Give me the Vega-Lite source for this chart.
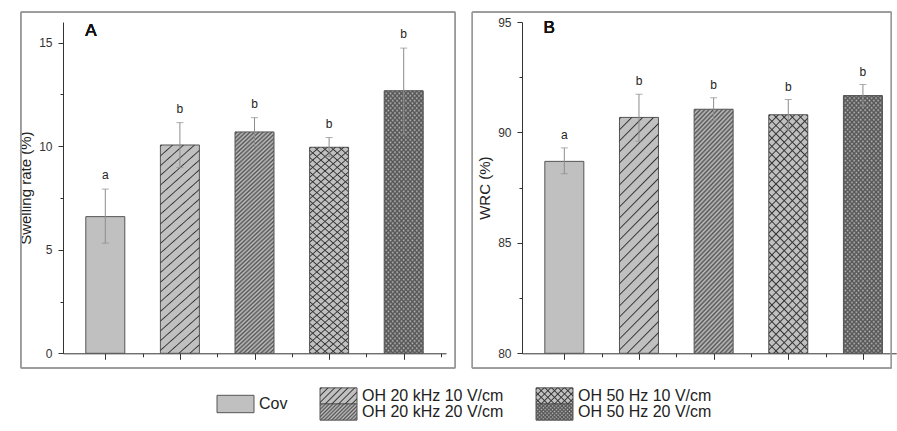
{
"$schema": "https://vega.github.io/schema/vega-lite/v6.json",
"padding": {"left": 18, "top": 11, "right": 0, "bottom": 0},
"params": [
{"name": "G1", "value": {"gradient":"linear","x1":0,"y1":0,"x2":0.1892,"y2":1.1351,"stops":[
{"offset":0,"color":"#3330"},{"offset":0.005,"color":"#333"},{"offset":0.01,"color":"#3330"},
{"offset":0.04,"color":"#3330"},{"offset":0.045,"color":"#333"},{"offset":0.05,"color":"#3330"},
{"offset":0.08,"color":"#3330"},{"offset":0.085,"color":"#333"},{"offset":0.09,"color":"#3330"},
{"offset":0.12,"color":"#3330"},{"offset":0.125,"color":"#333"},{"offset":0.13,"color":"#3330"},
{"offset":0.16,"color":"#3330"},{"offset":0.165,"color":"#333"},{"offset":0.17,"color":"#3330"},
{"offset":0.2,"color":"#3330"},{"offset":0.205,"color":"#333"},{"offset":0.21,"color":"#3330"},
{"offset":0.24,"color":"#3330"},{"offset":0.245,"color":"#333"},{"offset":0.25,"color":"#3330"},
{"offset":0.28,"color":"#3330"},{"offset":0.285,"color":"#333"},{"offset":0.29,"color":"#3330"},
{"offset":0.32,"color":"#3330"},{"offset":0.325,"color":"#333"},{"offset":0.33,"color":"#3330"},
{"offset":0.36,"color":"#3330"},{"offset":0.365,"color":"#333"},{"offset":0.37,"color":"#3330"},
{"offset":0.4,"color":"#3330"},{"offset":0.405,"color":"#333"},{"offset":0.41,"color":"#3330"},
{"offset":0.44,"color":"#3330"},{"offset":0.445,"color":"#333"},{"offset":0.45,"color":"#3330"},
{"offset":0.48,"color":"#3330"},{"offset":0.485,"color":"#333"},{"offset":0.49,"color":"#3330"},
{"offset":0.52,"color":"#3330"},{"offset":0.525,"color":"#333"},{"offset":0.53,"color":"#3330"},
{"offset":0.56,"color":"#3330"},{"offset":0.565,"color":"#333"},{"offset":0.57,"color":"#3330"},
{"offset":0.6,"color":"#3330"},{"offset":0.605,"color":"#333"},{"offset":0.61,"color":"#3330"},
{"offset":0.64,"color":"#3330"},{"offset":0.645,"color":"#333"},{"offset":0.65,"color":"#3330"},
{"offset":0.68,"color":"#3330"},{"offset":0.685,"color":"#333"},{"offset":0.69,"color":"#3330"},
{"offset":0.72,"color":"#3330"},{"offset":0.725,"color":"#333"},{"offset":0.73,"color":"#3330"},
{"offset":0.76,"color":"#3330"},{"offset":0.765,"color":"#333"},{"offset":0.77,"color":"#3330"},
{"offset":0.8,"color":"#3330"},{"offset":0.805,"color":"#333"},{"offset":0.81,"color":"#3330"},
{"offset":0.84,"color":"#3330"},{"offset":0.845,"color":"#333"},{"offset":0.85,"color":"#3330"},
{"offset":0.88,"color":"#3330"},{"offset":0.885,"color":"#333"},{"offset":0.89,"color":"#3330"},
{"offset":0.92,"color":"#3330"},{"offset":0.925,"color":"#333"},{"offset":0.93,"color":"#3330"},
{"offset":0.96,"color":"#3330"},{"offset":0.965,"color":"#333"},{"offset":0.97,"color":"#3330"}
]}},
{"name": "G2", "value": {"gradient":"linear","x1":0,"y1":0,"x2":0.1892,"y2":1.1351,"stops":[
{"offset":0,"color":"#5550"},{"offset":0.008,"color":"#555"},{"offset":0.016,"color":"#5550"},{"offset":0.024,"color":"#555"},{"offset":0.032,"color":"#5550"},{"offset":0.04,"color":"#555"},{"offset":0.048,"color":"#5550"},{"offset":0.056,"color":"#555"},{"offset":0.064,"color":"#5550"},{"offset":0.072,"color":"#555"},
{"offset":0.08,"color":"#5550"},{"offset":0.088,"color":"#555"},{"offset":0.096,"color":"#5550"},{"offset":0.104,"color":"#555"},{"offset":0.112,"color":"#5550"},{"offset":0.12,"color":"#555"},{"offset":0.128,"color":"#5550"},{"offset":0.136,"color":"#555"},{"offset":0.144,"color":"#5550"},{"offset":0.152,"color":"#555"},
{"offset":0.16,"color":"#5550"},{"offset":0.168,"color":"#555"},{"offset":0.176,"color":"#5550"},{"offset":0.184,"color":"#555"},{"offset":0.192,"color":"#5550"},{"offset":0.2,"color":"#555"},{"offset":0.208,"color":"#5550"},{"offset":0.216,"color":"#555"},{"offset":0.224,"color":"#5550"},{"offset":0.232,"color":"#555"},
{"offset":0.24,"color":"#5550"},{"offset":0.248,"color":"#555"},{"offset":0.256,"color":"#5550"},{"offset":0.264,"color":"#555"},{"offset":0.272,"color":"#5550"},{"offset":0.28,"color":"#555"},{"offset":0.288,"color":"#5550"},{"offset":0.296,"color":"#555"},{"offset":0.304,"color":"#5550"},{"offset":0.312,"color":"#555"},
{"offset":0.32,"color":"#5550"},{"offset":0.328,"color":"#555"},{"offset":0.336,"color":"#5550"},{"offset":0.344,"color":"#555"},{"offset":0.352,"color":"#5550"},{"offset":0.36,"color":"#555"},{"offset":0.368,"color":"#5550"},{"offset":0.376,"color":"#555"},{"offset":0.384,"color":"#5550"},{"offset":0.392,"color":"#555"},
{"offset":0.4,"color":"#5550"},{"offset":0.408,"color":"#555"},{"offset":0.416,"color":"#5550"},{"offset":0.424,"color":"#555"},{"offset":0.432,"color":"#5550"},{"offset":0.44,"color":"#555"},{"offset":0.448,"color":"#5550"},{"offset":0.456,"color":"#555"},{"offset":0.464,"color":"#5550"},{"offset":0.472,"color":"#555"},
{"offset":0.48,"color":"#5550"},{"offset":0.488,"color":"#555"},{"offset":0.496,"color":"#5550"},{"offset":0.504,"color":"#555"},{"offset":0.512,"color":"#5550"},{"offset":0.52,"color":"#555"},{"offset":0.528,"color":"#5550"},{"offset":0.536,"color":"#555"},{"offset":0.544,"color":"#5550"},{"offset":0.552,"color":"#555"},
{"offset":0.56,"color":"#5550"},{"offset":0.568,"color":"#555"},{"offset":0.576,"color":"#5550"},{"offset":0.584,"color":"#555"},{"offset":0.592,"color":"#5550"},{"offset":0.6,"color":"#555"},{"offset":0.608,"color":"#5550"},{"offset":0.616,"color":"#555"},{"offset":0.624,"color":"#5550"},{"offset":0.632,"color":"#555"},
{"offset":0.64,"color":"#5550"},{"offset":0.648,"color":"#555"},{"offset":0.656,"color":"#5550"},{"offset":0.664,"color":"#555"},{"offset":0.672,"color":"#5550"},{"offset":0.68,"color":"#555"},{"offset":0.688,"color":"#5550"},{"offset":0.696,"color":"#555"},{"offset":0.704,"color":"#5550"},{"offset":0.712,"color":"#555"},
{"offset":0.72,"color":"#5550"},{"offset":0.728,"color":"#555"},{"offset":0.736,"color":"#5550"},{"offset":0.744,"color":"#555"},{"offset":0.752,"color":"#5550"},{"offset":0.76,"color":"#555"},{"offset":0.768,"color":"#5550"},{"offset":0.776,"color":"#555"},{"offset":0.784,"color":"#5550"},{"offset":0.792,"color":"#555"},
{"offset":0.8,"color":"#5550"},{"offset":0.808,"color":"#555"},{"offset":0.816,"color":"#5550"},{"offset":0.824,"color":"#555"},{"offset":0.832,"color":"#5550"},{"offset":0.84,"color":"#555"},{"offset":0.848,"color":"#5550"},{"offset":0.856,"color":"#555"},{"offset":0.864,"color":"#5550"},{"offset":0.872,"color":"#555"},
{"offset":0.88,"color":"#5550"},{"offset":0.888,"color":"#555"},{"offset":0.896,"color":"#5550"},{"offset":0.904,"color":"#555"},{"offset":0.912,"color":"#5550"},{"offset":0.92,"color":"#555"},{"offset":0.928,"color":"#5550"},{"offset":0.936,"color":"#555"},{"offset":0.944,"color":"#5550"},{"offset":0.952,"color":"#555"},
{"offset":0.96,"color":"#5550"},{"offset":0.968,"color":"#555"},{"offset":0.976,"color":"#5550"},{"offset":0.984,"color":"#555"},{"offset":0.992,"color":"#5550"},{"offset":1,"color":"#555"}
]}},
{"name": "G2b", "value": {"gradient":"linear","x1":1,"y1":0,"x2":0.8108,"y2":1.1351,"stops":[
{"offset":0,"color":"#5550"},{"offset":0.008,"color":"#555"},{"offset":0.016,"color":"#5550"},{"offset":0.024,"color":"#555"},{"offset":0.032,"color":"#5550"},{"offset":0.04,"color":"#555"},{"offset":0.048,"color":"#5550"},{"offset":0.056,"color":"#555"},{"offset":0.064,"color":"#5550"},{"offset":0.072,"color":"#555"},
{"offset":0.08,"color":"#5550"},{"offset":0.088,"color":"#555"},{"offset":0.096,"color":"#5550"},{"offset":0.104,"color":"#555"},{"offset":0.112,"color":"#5550"},{"offset":0.12,"color":"#555"},{"offset":0.128,"color":"#5550"},{"offset":0.136,"color":"#555"},{"offset":0.144,"color":"#5550"},{"offset":0.152,"color":"#555"},
{"offset":0.16,"color":"#5550"},{"offset":0.168,"color":"#555"},{"offset":0.176,"color":"#5550"},{"offset":0.184,"color":"#555"},{"offset":0.192,"color":"#5550"},{"offset":0.2,"color":"#555"},{"offset":0.208,"color":"#5550"},{"offset":0.216,"color":"#555"},{"offset":0.224,"color":"#5550"},{"offset":0.232,"color":"#555"},
{"offset":0.24,"color":"#5550"},{"offset":0.248,"color":"#555"},{"offset":0.256,"color":"#5550"},{"offset":0.264,"color":"#555"},{"offset":0.272,"color":"#5550"},{"offset":0.28,"color":"#555"},{"offset":0.288,"color":"#5550"},{"offset":0.296,"color":"#555"},{"offset":0.304,"color":"#5550"},{"offset":0.312,"color":"#555"},
{"offset":0.32,"color":"#5550"},{"offset":0.328,"color":"#555"},{"offset":0.336,"color":"#5550"},{"offset":0.344,"color":"#555"},{"offset":0.352,"color":"#5550"},{"offset":0.36,"color":"#555"},{"offset":0.368,"color":"#5550"},{"offset":0.376,"color":"#555"},{"offset":0.384,"color":"#5550"},{"offset":0.392,"color":"#555"},
{"offset":0.4,"color":"#5550"},{"offset":0.408,"color":"#555"},{"offset":0.416,"color":"#5550"},{"offset":0.424,"color":"#555"},{"offset":0.432,"color":"#5550"},{"offset":0.44,"color":"#555"},{"offset":0.448,"color":"#5550"},{"offset":0.456,"color":"#555"},{"offset":0.464,"color":"#5550"},{"offset":0.472,"color":"#555"},
{"offset":0.48,"color":"#5550"},{"offset":0.488,"color":"#555"},{"offset":0.496,"color":"#5550"},{"offset":0.504,"color":"#555"},{"offset":0.512,"color":"#5550"},{"offset":0.52,"color":"#555"},{"offset":0.528,"color":"#5550"},{"offset":0.536,"color":"#555"},{"offset":0.544,"color":"#5550"},{"offset":0.552,"color":"#555"},
{"offset":0.56,"color":"#5550"},{"offset":0.568,"color":"#555"},{"offset":0.576,"color":"#5550"},{"offset":0.584,"color":"#555"},{"offset":0.592,"color":"#5550"},{"offset":0.6,"color":"#555"},{"offset":0.608,"color":"#5550"},{"offset":0.616,"color":"#555"},{"offset":0.624,"color":"#5550"},{"offset":0.632,"color":"#555"},
{"offset":0.64,"color":"#5550"},{"offset":0.648,"color":"#555"},{"offset":0.656,"color":"#5550"},{"offset":0.664,"color":"#555"},{"offset":0.672,"color":"#5550"},{"offset":0.68,"color":"#555"},{"offset":0.688,"color":"#5550"},{"offset":0.696,"color":"#555"},{"offset":0.704,"color":"#5550"},{"offset":0.712,"color":"#555"},
{"offset":0.72,"color":"#5550"},{"offset":0.728,"color":"#555"},{"offset":0.736,"color":"#5550"},{"offset":0.744,"color":"#555"},{"offset":0.752,"color":"#5550"},{"offset":0.76,"color":"#555"},{"offset":0.768,"color":"#5550"},{"offset":0.776,"color":"#555"},{"offset":0.784,"color":"#5550"},{"offset":0.792,"color":"#555"},
{"offset":0.8,"color":"#5550"},{"offset":0.808,"color":"#555"},{"offset":0.816,"color":"#5550"},{"offset":0.824,"color":"#555"},{"offset":0.832,"color":"#5550"},{"offset":0.84,"color":"#555"},{"offset":0.848,"color":"#5550"},{"offset":0.856,"color":"#555"},{"offset":0.864,"color":"#5550"},{"offset":0.872,"color":"#555"},
{"offset":0.88,"color":"#5550"},{"offset":0.888,"color":"#555"},{"offset":0.896,"color":"#5550"},{"offset":0.904,"color":"#555"},{"offset":0.912,"color":"#5550"},{"offset":0.92,"color":"#555"},{"offset":0.928,"color":"#5550"},{"offset":0.936,"color":"#555"},{"offset":0.944,"color":"#5550"},{"offset":0.952,"color":"#555"},
{"offset":0.96,"color":"#5550"},{"offset":0.968,"color":"#555"},{"offset":0.976,"color":"#5550"},{"offset":0.984,"color":"#555"},{"offset":0.992,"color":"#5550"},{"offset":1,"color":"#555"}
]}},
{"name": "G3", "value": {"gradient":"linear","x1":0,"y1":0,"x2":0.1892,"y2":1.1351,"stops":[
{"offset":0,"color":"#3330"},{"offset":0.005,"color":"#333"},{"offset":0.01,"color":"#3330"},
{"offset":0.03,"color":"#3330"},{"offset":0.035,"color":"#333"},{"offset":0.04,"color":"#3330"},
{"offset":0.06,"color":"#3330"},{"offset":0.065,"color":"#333"},{"offset":0.07,"color":"#3330"},
{"offset":0.09,"color":"#3330"},{"offset":0.095,"color":"#333"},{"offset":0.1,"color":"#3330"},
{"offset":0.12,"color":"#3330"},{"offset":0.125,"color":"#333"},{"offset":0.13,"color":"#3330"},
{"offset":0.15,"color":"#3330"},{"offset":0.155,"color":"#333"},{"offset":0.16,"color":"#3330"},
{"offset":0.18,"color":"#3330"},{"offset":0.185,"color":"#333"},{"offset":0.19,"color":"#3330"},
{"offset":0.21,"color":"#3330"},{"offset":0.215,"color":"#333"},{"offset":0.22,"color":"#3330"},
{"offset":0.24,"color":"#3330"},{"offset":0.245,"color":"#333"},{"offset":0.25,"color":"#3330"},
{"offset":0.27,"color":"#3330"},{"offset":0.275,"color":"#333"},{"offset":0.28,"color":"#3330"},
{"offset":0.3,"color":"#3330"},{"offset":0.305,"color":"#333"},{"offset":0.31,"color":"#3330"},
{"offset":0.33,"color":"#3330"},{"offset":0.335,"color":"#333"},{"offset":0.34,"color":"#3330"},
{"offset":0.36,"color":"#3330"},{"offset":0.365,"color":"#333"},{"offset":0.37,"color":"#3330"},
{"offset":0.39,"color":"#3330"},{"offset":0.395,"color":"#333"},{"offset":0.4,"color":"#3330"},
{"offset":0.42,"color":"#3330"},{"offset":0.425,"color":"#333"},{"offset":0.43,"color":"#3330"},
{"offset":0.45,"color":"#3330"},{"offset":0.455,"color":"#333"},{"offset":0.46,"color":"#3330"},
{"offset":0.48,"color":"#3330"},{"offset":0.485,"color":"#333"},{"offset":0.49,"color":"#3330"},
{"offset":0.51,"color":"#3330"},{"offset":0.515,"color":"#333"},{"offset":0.52,"color":"#3330"},
{"offset":0.54,"color":"#3330"},{"offset":0.545,"color":"#333"},{"offset":0.55,"color":"#3330"},
{"offset":0.57,"color":"#3330"},{"offset":0.575,"color":"#333"},{"offset":0.58,"color":"#3330"},
{"offset":0.6,"color":"#3330"},{"offset":0.605,"color":"#333"},{"offset":0.61,"color":"#3330"},
{"offset":0.63,"color":"#3330"},{"offset":0.635,"color":"#333"},{"offset":0.64,"color":"#3330"},
{"offset":0.66,"color":"#3330"},{"offset":0.665,"color":"#333"},{"offset":0.67,"color":"#3330"},
{"offset":0.69,"color":"#3330"},{"offset":0.695,"color":"#333"},{"offset":0.7,"color":"#3330"},
{"offset":0.72,"color":"#3330"},{"offset":0.725,"color":"#333"},{"offset":0.73,"color":"#3330"},
{"offset":0.75,"color":"#3330"},{"offset":0.755,"color":"#333"},{"offset":0.76,"color":"#3330"},
{"offset":0.78,"color":"#3330"},{"offset":0.785,"color":"#333"},{"offset":0.79,"color":"#3330"},
{"offset":0.81,"color":"#3330"},{"offset":0.815,"color":"#333"},{"offset":0.82,"color":"#3330"},
{"offset":0.84,"color":"#3330"},{"offset":0.845,"color":"#333"},{"offset":0.85,"color":"#3330"},
{"offset":0.87,"color":"#3330"},{"offset":0.875,"color":"#333"},{"offset":0.88,"color":"#3330"},
{"offset":0.9,"color":"#3330"},{"offset":0.905,"color":"#333"},{"offset":0.91,"color":"#3330"},
{"offset":0.93,"color":"#3330"},{"offset":0.935,"color":"#333"},{"offset":0.94,"color":"#3330"},
{"offset":0.96,"color":"#3330"},{"offset":0.965,"color":"#333"},{"offset":0.97,"color":"#3330"},
{"offset":0.99,"color":"#3330"},{"offset":0.995,"color":"#333"},{"offset":1,"color":"#3330"}
]}},
{"name": "G3b", "value": {"gradient":"linear","x1":1,"y1":0,"x2":0.8108,"y2":1.1351,"stops":[
{"offset":0,"color":"#3330"},{"offset":0.005,"color":"#333"},{"offset":0.01,"color":"#3330"},
{"offset":0.03,"color":"#3330"},{"offset":0.035,"color":"#333"},{"offset":0.04,"color":"#3330"},
{"offset":0.06,"color":"#3330"},{"offset":0.065,"color":"#333"},{"offset":0.07,"color":"#3330"},
{"offset":0.09,"color":"#3330"},{"offset":0.095,"color":"#333"},{"offset":0.1,"color":"#3330"},
{"offset":0.12,"color":"#3330"},{"offset":0.125,"color":"#333"},{"offset":0.13,"color":"#3330"},
{"offset":0.15,"color":"#3330"},{"offset":0.155,"color":"#333"},{"offset":0.16,"color":"#3330"},
{"offset":0.18,"color":"#3330"},{"offset":0.185,"color":"#333"},{"offset":0.19,"color":"#3330"},
{"offset":0.21,"color":"#3330"},{"offset":0.215,"color":"#333"},{"offset":0.22,"color":"#3330"},
{"offset":0.24,"color":"#3330"},{"offset":0.245,"color":"#333"},{"offset":0.25,"color":"#3330"},
{"offset":0.27,"color":"#3330"},{"offset":0.275,"color":"#333"},{"offset":0.28,"color":"#3330"},
{"offset":0.3,"color":"#3330"},{"offset":0.305,"color":"#333"},{"offset":0.31,"color":"#3330"},
{"offset":0.33,"color":"#3330"},{"offset":0.335,"color":"#333"},{"offset":0.34,"color":"#3330"},
{"offset":0.36,"color":"#3330"},{"offset":0.365,"color":"#333"},{"offset":0.37,"color":"#3330"},
{"offset":0.39,"color":"#3330"},{"offset":0.395,"color":"#333"},{"offset":0.4,"color":"#3330"},
{"offset":0.42,"color":"#3330"},{"offset":0.425,"color":"#333"},{"offset":0.43,"color":"#3330"},
{"offset":0.45,"color":"#3330"},{"offset":0.455,"color":"#333"},{"offset":0.46,"color":"#3330"},
{"offset":0.48,"color":"#3330"},{"offset":0.485,"color":"#333"},{"offset":0.49,"color":"#3330"},
{"offset":0.51,"color":"#3330"},{"offset":0.515,"color":"#333"},{"offset":0.52,"color":"#3330"},
{"offset":0.54,"color":"#3330"},{"offset":0.545,"color":"#333"},{"offset":0.55,"color":"#3330"},
{"offset":0.57,"color":"#3330"},{"offset":0.575,"color":"#333"},{"offset":0.58,"color":"#3330"},
{"offset":0.6,"color":"#3330"},{"offset":0.605,"color":"#333"},{"offset":0.61,"color":"#3330"},
{"offset":0.63,"color":"#3330"},{"offset":0.635,"color":"#333"},{"offset":0.64,"color":"#3330"},
{"offset":0.66,"color":"#3330"},{"offset":0.665,"color":"#333"},{"offset":0.67,"color":"#3330"},
{"offset":0.69,"color":"#3330"},{"offset":0.695,"color":"#333"},{"offset":0.7,"color":"#3330"},
{"offset":0.72,"color":"#3330"},{"offset":0.725,"color":"#333"},{"offset":0.73,"color":"#3330"},
{"offset":0.75,"color":"#3330"},{"offset":0.755,"color":"#333"},{"offset":0.76,"color":"#3330"},
{"offset":0.78,"color":"#3330"},{"offset":0.785,"color":"#333"},{"offset":0.79,"color":"#3330"},
{"offset":0.81,"color":"#3330"},{"offset":0.815,"color":"#333"},{"offset":0.82,"color":"#3330"},
{"offset":0.84,"color":"#3330"},{"offset":0.845,"color":"#333"},{"offset":0.85,"color":"#3330"},
{"offset":0.87,"color":"#3330"},{"offset":0.875,"color":"#333"},{"offset":0.88,"color":"#3330"},
{"offset":0.9,"color":"#3330"},{"offset":0.905,"color":"#333"},{"offset":0.91,"color":"#3330"},
{"offset":0.93,"color":"#3330"},{"offset":0.935,"color":"#333"},{"offset":0.94,"color":"#3330"},
{"offset":0.96,"color":"#3330"},{"offset":0.965,"color":"#333"},{"offset":0.97,"color":"#3330"},
{"offset":0.99,"color":"#3330"},{"offset":0.995,"color":"#333"},{"offset":1,"color":"#3330"}
]}},
{"name": "L1", "value": {"gradient":"linear","x1":0,"y1":0,"x2":1.2065,"y2":0.5315,"stops":[
{"offset":0,"color":"#3330"},{"offset":0.025,"color":"#333"},{"offset":0.05,"color":"#3330"},
{"offset":0.125,"color":"#3330"},{"offset":0.15,"color":"#333"},{"offset":0.175,"color":"#3330"},
{"offset":0.25,"color":"#3330"},{"offset":0.275,"color":"#333"},{"offset":0.3,"color":"#3330"},
{"offset":0.375,"color":"#3330"},{"offset":0.4,"color":"#333"},{"offset":0.425,"color":"#3330"},
{"offset":0.5,"color":"#3330"},{"offset":0.525,"color":"#333"},{"offset":0.55,"color":"#3330"},
{"offset":0.625,"color":"#3330"},{"offset":0.65,"color":"#333"},{"offset":0.675,"color":"#3330"},
{"offset":0.75,"color":"#3330"},{"offset":0.775,"color":"#333"},{"offset":0.8,"color":"#3330"},
{"offset":0.875,"color":"#3330"},{"offset":0.9,"color":"#333"},{"offset":0.925,"color":"#3330"}
]}},
{"name": "L1b", "value": {"gradient":"linear","x1":1,"y1":0,"x2":-0.2065,"y2":0.5315,"stops":[
{"offset":0,"color":"#3330"},{"offset":0.025,"color":"#333"},{"offset":0.05,"color":"#3330"},
{"offset":0.125,"color":"#3330"},{"offset":0.15,"color":"#333"},{"offset":0.175,"color":"#3330"},
{"offset":0.25,"color":"#3330"},{"offset":0.275,"color":"#333"},{"offset":0.3,"color":"#3330"},
{"offset":0.375,"color":"#3330"},{"offset":0.4,"color":"#333"},{"offset":0.425,"color":"#3330"},
{"offset":0.5,"color":"#3330"},{"offset":0.525,"color":"#333"},{"offset":0.55,"color":"#3330"},
{"offset":0.625,"color":"#3330"},{"offset":0.65,"color":"#333"},{"offset":0.675,"color":"#3330"},
{"offset":0.75,"color":"#3330"},{"offset":0.775,"color":"#333"},{"offset":0.8,"color":"#3330"},
{"offset":0.875,"color":"#3330"},{"offset":0.9,"color":"#333"},{"offset":0.925,"color":"#3330"}
]}},
{"name": "L2", "value": {"gradient":"linear","x1":0,"y1":0,"x2":1.2065,"y2":0.5315,"stops":[
{"offset":0,"color":"#5550"},{"offset":0.035,"color":"#555"},{"offset":0.07,"color":"#5550"},{"offset":0.105,"color":"#555"},{"offset":0.14,"color":"#5550"},{"offset":0.175,"color":"#555"},{"offset":0.21,"color":"#5550"},{"offset":0.245,"color":"#555"},{"offset":0.28,"color":"#5550"},{"offset":0.315,"color":"#555"},
{"offset":0.35,"color":"#5550"},{"offset":0.385,"color":"#555"},{"offset":0.42,"color":"#5550"},{"offset":0.455,"color":"#555"},{"offset":0.49,"color":"#5550"},{"offset":0.525,"color":"#555"},{"offset":0.56,"color":"#5550"},{"offset":0.595,"color":"#555"},{"offset":0.63,"color":"#5550"},{"offset":0.665,"color":"#555"},
{"offset":0.7,"color":"#5550"},{"offset":0.735,"color":"#555"},{"offset":0.77,"color":"#5550"},{"offset":0.805,"color":"#555"},{"offset":0.84,"color":"#5550"},{"offset":0.875,"color":"#555"},{"offset":0.91,"color":"#5550"},{"offset":0.945,"color":"#555"},{"offset":0.98,"color":"#5550"}
]}},
{"name": "L2b", "value": {"gradient":"linear","x1":1,"y1":0,"x2":-0.2065,"y2":0.5315,"stops":[
{"offset":0,"color":"#5550"},{"offset":0.035,"color":"#555"},{"offset":0.07,"color":"#5550"},{"offset":0.105,"color":"#555"},{"offset":0.14,"color":"#5550"},{"offset":0.175,"color":"#555"},{"offset":0.21,"color":"#5550"},{"offset":0.245,"color":"#555"},{"offset":0.28,"color":"#5550"},{"offset":0.315,"color":"#555"},
{"offset":0.35,"color":"#5550"},{"offset":0.385,"color":"#555"},{"offset":0.42,"color":"#5550"},{"offset":0.455,"color":"#555"},{"offset":0.49,"color":"#5550"},{"offset":0.525,"color":"#555"},{"offset":0.56,"color":"#5550"},{"offset":0.595,"color":"#555"},{"offset":0.63,"color":"#5550"},{"offset":0.665,"color":"#555"},
{"offset":0.7,"color":"#5550"},{"offset":0.735,"color":"#555"},{"offset":0.77,"color":"#5550"},{"offset":0.805,"color":"#555"},{"offset":0.84,"color":"#5550"},{"offset":0.875,"color":"#555"},{"offset":0.91,"color":"#5550"},{"offset":0.945,"color":"#555"},{"offset":0.98,"color":"#5550"}
]}}
],
"datasets": {
"d": [
{"t":"Cov","sw":6.6,"swlo":5.32,"swhi":7.93,"wrc":88.69,"wrclo":88.13,"wrchi":89.3,"letter":"a"},
{"t":"OH 20 kHz 10 V/cm","sw":10.06,"swlo":8.97,"swhi":11.14,"wrc":90.68,"wrclo":89.6,"wrchi":91.73,"letter":"b"},
{"t":"OH 20 kHz 20 V/cm","sw":10.69,"swlo":10.0,"swhi":11.38,"wrc":91.05,"wrclo":90.55,"wrchi":91.57,"letter":"b"},
{"t":"OH 50 Hz 10 V/cm","sw":9.95,"swlo":9.5,"swhi":10.42,"wrc":90.8,"wrclo":90.1,"wrchi":91.49,"letter":"b"},
{"t":"OH 50 Hz 20 V/cm","sw":12.68,"swlo":10.6,"swhi":14.74,"wrc":91.67,"wrclo":91.2,"wrchi":92.17,"letter":"b"}
],
"leg": [
{"freq":"Cov","volt":null,"label":"Cov"},
{"freq":"OH 20 kHz","volt":"10 V/cm","label":"OH 20 kHz 10 V/cm"},
{"freq":"OH 20 kHz","volt":"20 V/cm","label":"OH 20 kHz 20 V/cm"},
{"freq":"OH 50 Hz","volt":"10 V/cm","label":"OH 50 Hz 10 V/cm"},
{"freq":"OH 50 Hz","volt":"20 V/cm","label":"OH 50 Hz 20 V/cm"}
]
},
"config": {
"font": "Liberation Sans",
"view": {"stroke": null},
"axis": {"labelColor": "#333", "labelFontSize": 12, "titleFontSize": 15, "titleFontWeight": "normal", "titleColor": "#222", "grid": false, "labelFont": "Liberation Sans", "titleFont": "Liberation Sans", "domainColor": "#333", "tickColor": "#333"}
},
"spacing": 16,
"vconcat": [
{"spacing": 15, "hconcat": [
{
"width": 383, "height": 331.3,
"data": {"name": "d"},
"transform": [{"window": [{"op": "row_number", "as": "n"}]}],
"resolve": {"axis": {"x": "independent", "y": "independent"}},
"layer": [
{"mark": {"type": "rect", "filled": false, "color": "#9a9a9a", "strokeWidth": 1},
 "encoding": {"x": {"datum": -0.132, "type": "quantitative", "axis": null}, "x2": {"datum": 5.69}, "y": {"datum": -0.71, "type": "quantitative", "axis": null}, "y2": {"datum": 16.48}}},
{"mark": {"type": "bar", "fill": "#c0c0c0", "stroke": "#555", "strokeWidth": 1, "size": 39},
 "encoding": {
  "x": {"field": "n", "type": "quantitative", "scale": {"domain": [0.5, 5.5], "nice": false, "zero": false}, "axis": {"orient": "bottom", "title": null, "labels": false, "values": [1, 2, 3, 4, 5], "tickSize": 6}},
  "y": {"field": "sw", "type": "quantitative", "scale": {"domain": [0, 16], "nice": false}, "axis": {"orient": "left", "title": "Swelling rate (%)", "values": [0, 5, 10, 15], "tickSize": 5, "labelPadding": 6, "titlePadding": 5}}
 }},
{"transform": [{"filter": "datum.t == 'OH 20 kHz 10 V/cm'"}],
 "mark": {"type": "bar", "fill": {"expr": "G1"}, "strokeWidth": 0, "size": 39},
 "encoding": {"x": {"field": "n", "type": "quantitative", "axis": null}, "y": {"field": "sw", "type": "quantitative", "axis": null}}},
{"transform": [{"filter": "datum.t == 'OH 20 kHz 20 V/cm' || datum.t == 'OH 50 Hz 20 V/cm'"}],
 "mark": {"type": "bar", "fill": {"expr": "G2"}, "strokeWidth": 0, "size": 39},
 "encoding": {"x": {"field": "n", "type": "quantitative", "axis": null}, "y": {"field": "sw", "type": "quantitative", "axis": null}}},
{"transform": [{"filter": "datum.t == 'OH 50 Hz 20 V/cm'"}],
 "mark": {"type": "bar", "fill": {"expr": "G2b"}, "strokeWidth": 0, "size": 39},
 "encoding": {"x": {"field": "n", "type": "quantitative", "axis": null}, "y": {"field": "sw", "type": "quantitative", "axis": null}}},
{"transform": [{"filter": "datum.t == 'OH 50 Hz 10 V/cm'"}],
 "mark": {"type": "bar", "fill": {"expr": "G3"}, "strokeWidth": 0, "size": 39},
 "encoding": {"x": {"field": "n", "type": "quantitative", "axis": null}, "y": {"field": "sw", "type": "quantitative", "axis": null}}},
{"transform": [{"filter": "datum.t == 'OH 50 Hz 10 V/cm'"}],
 "mark": {"type": "bar", "fill": {"expr": "G3b"}, "strokeWidth": 0, "size": 39},
 "encoding": {"x": {"field": "n", "type": "quantitative", "axis": null}, "y": {"field": "sw", "type": "quantitative", "axis": null}}},
{"mark": {"type": "errorbar", "color": "#8c8c8c", "ticks": {"size": 7}},
 "encoding": {"x": {"field": "n", "type": "quantitative", "axis": null}, "y": {"field": "swlo", "type": "quantitative", "axis": null}, "y2": {"field": "swhi"}}},
{"mark": {"type": "text", "dy": -10, "baseline": "alphabetic", "fontSize": 12, "fill": "#222"},
 "encoding": {
  "x": {"field": "n", "type": "quantitative", "axis": {"orient": "bottom", "title": null, "labels": false, "domain": false, "tickSize": 3.5, "values": [1.5, 2.5, 3.5, 4.5, 5.5]}},
  "y": {"field": "swhi", "type": "quantitative", "axis": {"orient": "left", "title": null, "labels": false, "domain": false, "tickSize": 3, "values": [2.5, 7.5, 12.5]}},
  "text": {"field": "letter"}
 }},
{"mark": {"type": "text", "text": "A", "align": "left", "baseline": "alphabetic", "fontSize": 17, "dy": 14, "fill": "#111"},
 "encoding": {"x": {"datum": 0.73, "type": "quantitative", "axis": null}, "y": {"datum": 16, "type": "quantitative", "axis": null}}}
]
},
{
"width": 374.3, "height": 331.3,
"data": {"name": "d"},
"transform": [{"window": [{"op": "row_number", "as": "n"}]}],
"resolve": {"axis": {"x": "independent", "y": "independent"}},
"layer": [
{"mark": {"type": "rect", "filled": false, "color": "#9a9a9a", "strokeWidth": 1},
 "encoding": {"x": {"datum": -0.233, "type": "quantitative", "axis": null}, "x2": {"datum": 5.38}, "y": {"datum": 79.33, "type": "quantitative", "axis": null}, "y2": {"datum": 95.45}}},
{"mark": {"type": "bar", "fill": "#c0c0c0", "stroke": "#555", "strokeWidth": 1, "size": 39},
 "encoding": {
  "x": {"field": "n", "type": "quantitative", "scale": {"domain": [0.5, 5.38], "nice": false, "zero": false}, "axis": {"orient": "bottom", "title": null, "labels": false, "values": [1, 2, 3, 4, 5], "tickSize": 6}},
  "y": {"field": "wrc", "type": "quantitative", "scale": {"domain": [80, 95], "nice": false, "zero": false}, "axis": {"orient": "left", "title": "WRC (%)", "values": [80, 85, 90, 95], "tickSize": 5, "labelPadding": 6, "titlePadding": 5}},
  "y2": {"datum": 80}
 }},
{"transform": [{"filter": "datum.t == 'OH 20 kHz 10 V/cm'"}],
 "mark": {"type": "bar", "fill": {"expr": "G1"}, "strokeWidth": 0, "size": 39},
 "encoding": {"x": {"field": "n", "type": "quantitative", "axis": null}, "y": {"field": "wrc", "type": "quantitative", "axis": null}, "y2": {"datum": 80}}},
{"transform": [{"filter": "datum.t == 'OH 20 kHz 20 V/cm' || datum.t == 'OH 50 Hz 20 V/cm'"}],
 "mark": {"type": "bar", "fill": {"expr": "G2"}, "strokeWidth": 0, "size": 39},
 "encoding": {"x": {"field": "n", "type": "quantitative", "axis": null}, "y": {"field": "wrc", "type": "quantitative", "axis": null}, "y2": {"datum": 80}}},
{"transform": [{"filter": "datum.t == 'OH 50 Hz 20 V/cm'"}],
 "mark": {"type": "bar", "fill": {"expr": "G2b"}, "strokeWidth": 0, "size": 39},
 "encoding": {"x": {"field": "n", "type": "quantitative", "axis": null}, "y": {"field": "wrc", "type": "quantitative", "axis": null}, "y2": {"datum": 80}}},
{"transform": [{"filter": "datum.t == 'OH 50 Hz 10 V/cm'"}],
 "mark": {"type": "bar", "fill": {"expr": "G3"}, "strokeWidth": 0, "size": 39},
 "encoding": {"x": {"field": "n", "type": "quantitative", "axis": null}, "y": {"field": "wrc", "type": "quantitative", "axis": null}, "y2": {"datum": 80}}},
{"transform": [{"filter": "datum.t == 'OH 50 Hz 10 V/cm'"}],
 "mark": {"type": "bar", "fill": {"expr": "G3b"}, "strokeWidth": 0, "size": 39},
 "encoding": {"x": {"field": "n", "type": "quantitative", "axis": null}, "y": {"field": "wrc", "type": "quantitative", "axis": null}, "y2": {"datum": 80}}},
{"mark": {"type": "errorbar", "color": "#8c8c8c", "ticks": {"size": 7}},
 "encoding": {"x": {"field": "n", "type": "quantitative", "axis": null}, "y": {"field": "wrclo", "type": "quantitative", "axis": null}, "y2": {"field": "wrchi"}}},
{"mark": {"type": "text", "dy": -9, "baseline": "alphabetic", "fontSize": 12, "fill": "#222"},
 "encoding": {
  "x": {"field": "n", "type": "quantitative", "axis": {"orient": "bottom", "title": null, "labels": false, "domain": false, "tickSize": 3.5, "values": [1.5, 2.5, 3.5, 4.5]}},
  "y": {"field": "wrchi", "type": "quantitative", "axis": {"orient": "left", "title": null, "labels": false, "domain": false, "tickSize": 3, "values": [82.5, 87.5, 92.5]}},
  "text": {"field": "letter"}
 }},
{"mark": {"type": "text", "text": "B", "align": "left", "baseline": "alphabetic", "fontSize": 17, "dy": 11, "fill": "#111"},
 "encoding": {"x": {"datum": 0.72, "type": "quantitative", "axis": null}, "y": {"datum": 95, "type": "quantitative", "axis": null}}}
]
}
]},
{"spacing": 30, "hconcat": [
{"width": 122, "height": 32, "view": {"stroke": null}, "data": {"values": [{}]}, "mark": {"type": "point", "opacity": 0}, "encoding": {}},
{"width": 37, "height": 32, "view": {"stroke": null}, "data": {"name": "leg"}, "transform": [{"filter": "datum.freq == 'Cov'"}],
 "layer": [
  {"mark": {"type": "point", "shape": "M-1,-0.47H1V0.47H-1Z", "size": 1369, "filled": true, "fill": "#c0c0c0", "stroke": "#555", "strokeWidth": 1, "opacity": 1}, "encoding": {}},
  {"mark": {"type": "text", "align": "left", "baseline": "middle", "dx": 23.5, "fontSize": 16, "fill": "#222"}, "encoding": {"text": {"field": "label"}}}
 ]},
{"width": 37, "height": 32, "view": {"stroke": null}, "data": {"name": "leg"}, "transform": [{"filter": "datum.freq == 'OH 20 kHz'"}],
 "encoding": {"y": {"field": "volt", "type": "nominal", "axis": null}},
 "layer": [
  {"mark": {"type": "point", "shape": "M-1,-0.44H1V0.44H-1Z", "size": 1369, "filled": true, "fill": "#c0c0c0", "stroke": "#555", "strokeWidth": 1, "opacity": 1}},
  {"transform": [{"filter": "datum.volt == '10 V/cm'"}], "mark": {"type": "point", "shape": "M-1,-0.44H1V0.44H-1Z", "size": 1369, "filled": true, "fill": {"expr": "L1"}, "strokeWidth": 0, "opacity": 1}},
  {"transform": [{"filter": "datum.volt == '20 V/cm'"}], "mark": {"type": "point", "shape": "M-1,-0.44H1V0.44H-1Z", "size": 1369, "filled": true, "fill": {"expr": "L2"}, "strokeWidth": 0, "opacity": 1}},
  {"mark": {"type": "text", "align": "left", "baseline": "middle", "dx": 23.5, "fontSize": 16, "fill": "#222"}, "encoding": {"text": {"field": "label"}}}
 ]},
{"width": 37, "height": 32, "view": {"stroke": null}, "data": {"name": "leg"}, "transform": [{"filter": "datum.freq == 'OH 50 Hz'"}],
 "encoding": {"y": {"field": "volt", "type": "nominal", "axis": null}},
 "layer": [
  {"mark": {"type": "point", "shape": "M-1,-0.44H1V0.44H-1Z", "size": 1369, "filled": true, "fill": "#c0c0c0", "stroke": "#555", "strokeWidth": 1, "opacity": 1}},
  {"transform": [{"filter": "datum.volt == '10 V/cm'"}], "mark": {"type": "point", "shape": "M-1,-0.44H1V0.44H-1Z", "size": 1369, "filled": true, "fill": {"expr": "L1"}, "strokeWidth": 0, "opacity": 1}},
  {"transform": [{"filter": "datum.volt == '10 V/cm'"}], "mark": {"type": "point", "shape": "M-1,-0.44H1V0.44H-1Z", "size": 1369, "filled": true, "fill": {"expr": "L1b"}, "strokeWidth": 0, "opacity": 1}},
  {"transform": [{"filter": "datum.volt == '20 V/cm'"}], "mark": {"type": "point", "shape": "M-1,-0.44H1V0.44H-1Z", "size": 1369, "filled": true, "fill": {"expr": "L2"}, "strokeWidth": 0, "opacity": 1}},
  {"transform": [{"filter": "datum.volt == '20 V/cm'"}], "mark": {"type": "point", "shape": "M-1,-0.44H1V0.44H-1Z", "size": 1369, "filled": true, "fill": {"expr": "L2b"}, "strokeWidth": 0, "opacity": 1}},
  {"mark": {"type": "text", "align": "left", "baseline": "middle", "dx": 23.5, "fontSize": 16, "fill": "#222"}, "encoding": {"text": {"field": "label"}}}
 ]}
]}
]
}
